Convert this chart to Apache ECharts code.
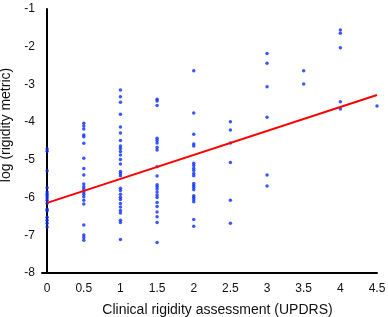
<!DOCTYPE html>
<html>
<head>
<meta charset="utf-8">
<script src="https://cdn.jsdelivr.net/npm/echarts@6/dist/echarts.min.js"></script>
<style>
  html, body { margin: 0; padding: 0; background: #fff; }
  #chart { width: 388px; height: 317px; }
</style>
</head>
<body>
<div id="chart"></div>
<script>
// UPDRS score levels and the log rigidity values read at each level
var updrsLevels = [0, 0.5, 1, 1.5, 2, 2.5, 3, 3.5, 4, 4.5];
var rigidity0 = [-4.71, -4.77, -5.29, -5.74, -5.85, -5.91, -5.96, -6.01, -6.07, -6.15, -6.31, -6.35, -6.52, -6.60, -6.68, -6.78];
var rigidity05 = [-4.03, -4.10, -4.18, -4.34, -4.39, -4.56, -4.96, -5.23, -5.40, -5.64, -5.71, -5.77, -5.85, -5.91, -5.98, -6.07, -6.17, -6.73, -6.99, -7.06, -7.13];
var rigidity1 = [-3.15, -3.33, -3.47, -3.79, -4.13, -4.29, -4.49, -4.63, -4.70, -4.78, -4.87, -4.99, -5.11, -5.31, -5.36, -5.42, -5.75, -5.81, -5.91, -5.99, -6.05, -6.16, -6.25, -6.34, -6.41, -6.60, -6.66, -7.11];
var rigidity15 = [-3.39, -3.44, -3.56, -4.43, -4.49, -4.55, -4.67, -4.74, -5.18, -5.43, -5.66, -5.71, -5.77, -5.85, -5.93, -6.00, -6.13, -6.24, -6.38, -6.51, -6.66, -7.19];
var rigidity2 = [-2.64, -3.76, -4.32, -4.58, -4.63, -5.09, -5.15, -5.22, -5.28, -5.36, -5.42, -5.63, -5.68, -5.73, -5.79, -5.95, -6.00, -6.05, -6.11, -6.58, -6.76];
var rigidity25 = [-3.99, -4.21, -4.55, -5.07, -6.07, -6.68];
var rigidity3 = [-2.18, -2.44, -3.06, -3.87, -5.40, -5.69];
var rigidity35 = [-2.64, -2.99];
var rigidity4 = [-1.56, -1.64, -2.03, -3.46, -3.65];
var rigidity45 = [-3.57];

// fitted line end points (x, y)
var fitX = [0, 4.5];
var fitY = [-6.14, -3.28];

var xTicks = [0, 0.5, 1, 1.5, 2, 2.5, 3, 3.5, 4, 4.5];

var chart = echarts.init(document.getElementById('chart'));

var groups = [rigidity0, rigidity05, rigidity1, rigidity15, rigidity2, rigidity25, rigidity3, rigidity35, rigidity4, rigidity45];
var points = [];
for (var i = 0; i < groups.length; i++) {
    for (var j = 0; j < groups[i].length; j++) {
        points.push([updrsLevels[i], groups[i][j]]);
    }
}
var fitLine = [];
for (var k = 0; k < fitX.length; k++) {
    fitLine.push([fitX[k], fitY[k]]);
}

var font = 'Liberation Sans, Arial, sans-serif';

var option = {
    animation: false,
    backgroundColor: '#fff',
    grid: { left: 42, right: 11, top: 9, bottom: 44, containLabel: false, outerBoundsMode: 'none' },
    xAxis: {
        type: 'value',
        min: -0.07,
        max: 4.5,
        name: 'Clinical rigidity assessment (UPDRS)',
        nameLocation: 'middle',
        nameGap: 30,
        nameTextStyle: { color: '#111', fontSize: 14, fontFamily: font, padding: [0, 0, 0, 16] },
        axisLine: { lineStyle: { color: '#000', width: 2 } },
        axisTick: { show: false },
        splitLine: { show: false },
        axisLabel: {
            customValues: xTicks,
            color: '#111',
            fontSize: 12,
            fontFamily: font,
            margin: 10
        }
    },
    yAxis: {
        type: 'value',
        min: -8,
        max: -1,
        interval: 1,
        name: 'log (rigidity metric)',
        nameLocation: 'middle',
        nameGap: 25,
        nameTextStyle: { color: '#111', fontSize: 14, fontFamily: font, padding: [0, 0, 0, 32] },
        axisLine: { show: true, lineStyle: { color: '#000', width: 2 } },
        axisTick: { show: false },
        splitLine: { show: false },
        axisLabel: { color: '#111', fontSize: 12, fontFamily: font, margin: 7 }
    },
    series: [{
        type: 'scatter',
        symbol: 'circle',
        symbolSize: 3.5,
        itemStyle: { color: '#0a2eff' },
        data: points,
        z: 2
    }, {
        type: 'line',
        symbol: 'none',
        lineStyle: { color: '#ff0000', width: 2 },
        data: fitLine,
        z: 3
    }]
};
chart.setOption(option);
</script>
</body>
</html>
